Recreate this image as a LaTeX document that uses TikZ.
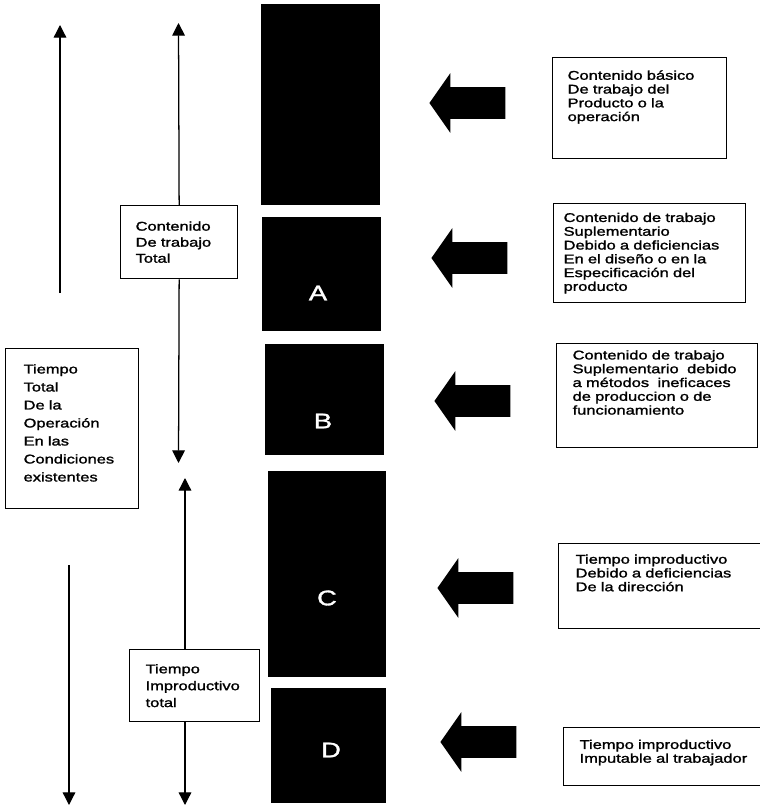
\documentclass[tikz,border=0pt]{standalone}
\usepackage{fontspec}
\setmainfont{Liberation Sans}[FakeStretch=1.3,FakeBold=1.5]
\usetikzlibrary{arrows.meta,shapes.arrows}
\tikzset{
  caja/.style={draw, line width=0.9pt, anchor=north west, align=left, inner ysep=0pt,
    font=\fontsize{9}{9.8}\selectfont},
  cajaizq/.style={caja, font=\fontsize{9}{12}\selectfont},
  bloque/.style={fill=black, inner sep=0pt},
  letra/.style={text=white, font=\fontsize{15}{18}\selectfont},
  flecha/.style={line width=0.9pt, -{Triangle[width=9pt,length=9pt]}},
  gorda/.style={single arrow, fill=black, inner xsep=0pt, inner ysep=0.39cm,
    minimum height=1.9cm, single arrow head extend=0.35cm,
    single arrow tip angle=110, shape border rotate=180}
}
\begin{document}
\begin{tikzpicture}[x=0.025cm,y=-0.025cm]
\useasboundingbox (0,0) rectangle (760,807);
% columna de bloques
\node[bloque, minimum width=2.975cm, minimum height=5.025cm] (bloqueBase) at (320.5,104.5) {};
\node[bloque, minimum width=2.975cm, minimum height=2.85cm] (bloqueA) at (321.5,274) {};
\node[bloque, minimum width=2.975cm, minimum height=2.775cm] (bloqueB) at (324.5,399.5) {};
\node[bloque, minimum width=2.95cm, minimum height=5.15cm] (bloqueC) at (327,574) {};
\node[bloque, minimum width=2.875cm, minimum height=2.875cm] (bloqueD) at (328.5,745.5) {};
\node[letra] (letraA) at (318,293) {A};
\node[letra] (letraB) at (323,421) {B};
\node[letra] (letraC) at (327,598) {C};
\node[letra] (letraD) at (331,750) {D};
% cajas de la izquierda
\node[cajaizq, font=\fontsize{9}{12.8}\selectfont, text width=2.425cm, inner xsep=0.45cm, minimum height=4cm, text depth=85pt] (tiempoTotal) at (5,348)
  {Tiempo\\Total\\De la\\Operación\\En las\\Condiciones\\existentes};
\node[cajaizq, font=\fontsize{9}{11.4}\selectfont, text width=2.175cm, inner xsep=0.375cm, minimum height=1.825cm] (contTotal) at (120,205)
  {Contenido\\De trabajo\\Total};
\node[cajaizq, text width=2.45cm, inner xsep=0.4cm, minimum height=1.8cm] (improdTotal) at (129,649)
  {Tiempo\\Improductivo\\total};
% flechas finas
\coordinate (izqArriba) at (60,25);
\coordinate (izqCorte) at (60,293);
\coordinate (izqInicio) at (69,565);
\coordinate (izqAbajo) at (69,805);
\coordinate (medArriba) at (178.5,23);
\coordinate (medMitad) at (178.5,463);
\coordinate (impArriba) at (185,478);
\coordinate (impAbajo) at (185,805);
\draw[flecha] (izqCorte) -- (izqArriba);
\draw[flecha] (izqInicio) -- (izqAbajo);
\draw[flecha] (contTotal.north) -- (medArriba);
\draw[flecha] (contTotal.south) -- (medMitad);
\draw[flecha] (improdTotal.north -| impArriba) -- (impArriba);
\draw[flecha] (improdTotal.south -| impAbajo) -- (impAbajo);
% flechas gruesas
\node[gorda] (flechaBase) at (473,103) {};
\node[gorda] (flechaDis) at (475,258) {};
\node[gorda] (flechaMet) at (478,401) {};
\node[gorda] (flechaDir) at (481,588) {};
\node[gorda] (flechaTrab) at (484,742) {};
% cajas de la derecha
\node[caja, text width=3.6cm, inner xsep=0.375cm, minimum height=2.525cm, text depth=47pt] (basico) at (552,57)
  {Contenido básico\\De trabajo del\\Producto o la\\operación};
\node[caja, text width=4.3cm, inner xsep=0.25cm, minimum height=2.475cm] (suplDiseno) at (553,203)
  {Contenido de trabajo\\Suplementario\\Debido a deficiencias\\En el diseño o en la\\Especificación del\\producto};
\node[caja, text width=4.225cm, inner xsep=0.4cm, minimum height=2.6cm, text depth=58pt] (suplMetodos) at (556,343)
  {Contenido de trabajo\\Suplementario\ \ debido\\a\ métodos\ \ ineficaces\\de produccion o de\\funcionamiento};
\node[caja, text width=4.4cm, inner xsep=0.425cm, minimum height=2.125cm, text depth=38.5pt] (improdDir) at (558,543)
  {Tiempo improductivo\\Debido a deficiencias\\De la dirección};
\node[caja, text width=4.325cm, inner xsep=0.4cm, minimum height=1.45cm, text depth=17.5pt] (improdTrab) at (563,727)
  {Tiempo improductivo\\Imputable al trabajador};
\end{tikzpicture}
\end{document}
